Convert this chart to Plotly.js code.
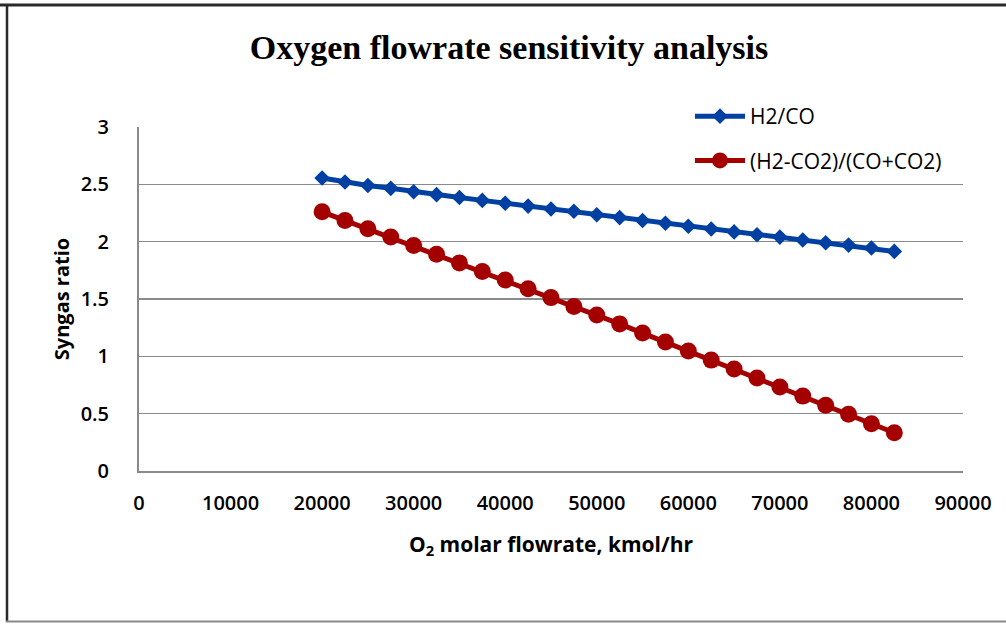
<!DOCTYPE html>
<html>
<head>
<meta charset="utf-8">
<script src="https://cdn.plot.ly/plotly-3.0.1.min.js"></script>
<style>
html,body{margin:0;padding:0;background:#fff;}
#chart{width:1006px;height:624px;}
</style>
</head>
<body>
<div id="chart"></div>
<script>
// O2 molar flowrate, kmol/hr
const o2Flow = [20000, 22500, 25000, 27500, 30000, 32500, 35000, 37500, 40000, 42500,
                45000, 47500, 50000, 52500, 55000, 57500, 60000, 62500, 65000, 67500,
                70000, 72500, 75000, 77500, 80000, 82500];
// H2/CO
const h2co = [2.555, 2.52, 2.49, 2.465, 2.435, 2.41, 2.385, 2.36, 2.335, 2.31,
              2.285, 2.265, 2.235, 2.21, 2.185, 2.16, 2.135, 2.11, 2.085, 2.06,
              2.04, 2.015, 1.99, 1.97, 1.945, 1.915];
// (H2-CO2)/(CO+CO2)
const moduleRatio = [2.26, 2.185, 2.113, 2.04, 1.967, 1.89, 1.815, 1.74, 1.665, 1.59,
                     1.512, 1.435, 1.36, 1.283, 1.203, 1.125, 1.047, 0.967, 0.89, 0.812,
                     0.733, 0.653, 0.574, 0.494, 0.412, 0.334];
const seriesNames = ['H2/CO', '(H2-CO2)/(CO+CO2)'];
const yTicks = [0, 0.5, 1, 1.5, 2, 2.5, 3];
const xTicks = [0, 10000, 20000, 30000, 40000, 50000, 60000, 70000, 80000, 90000];

const BLUE = '#0040a2';
const RED = '#a50000';
const GRID = '#8a8a8a';
const SANS = 'Open Sans, Liberation Sans, sans-serif';

const traces = [
  {
    x: o2Flow, y: h2co, name: seriesNames[0], type: 'scatter', mode: 'lines+markers',
    legendgroup: 'a',
    line: {color: BLUE, width: 5},
    marker: {symbol: 'diamond', size: 12, color: BLUE}
  },
  {
    x: o2Flow, y: moduleRatio, name: seriesNames[1], type: 'scatter', mode: 'lines+markers',
    legendgroup: 'b',
    line: {color: RED, width: 5},
    marker: {symbol: 'circle', size: 17, color: RED}
  }
];

const pw = 824, ph = 344, ml = 139, mt = 127;
function px(xp){ return (xp - ml) / pw; }
function py(yp){ return (mt + ph - yp) / ph; }

const layout = {
  width: 1006, height: 624,
  margin: {l: 139, r: 43, t: 127, b: 153, pad: 0},
  paper_bgcolor: '#ffffff', plot_bgcolor: '#ffffff',
  showlegend: true,
  title: {
    text: 'Oxygen flowrate sensitivity analysis',
    font: {family: 'Liberation Serif, Times New Roman, serif', size: 34, color: '#000', weight: 'bold'},
    xref: 'container', yref: 'container', x: 0.506, y: 1 - 47/624,
    xanchor: 'center', yanchor: 'middle'
  },
  xaxis: {
    range: [0, 90000], tickvals: xTicks, tickformat: 'd',
    showgrid: false, zeroline: false,
    showline: true, linecolor: GRID, linewidth: 2,
    ticks: '', ticklabelstandoff: 13,
    tickfont: {family: SANS, size: 20, color: '#000', weight: 600},
    title: {text: 'O<sub>2</sub> molar flowrate, kmol/hr',
            font: {family: SANS, size: 21, color: '#000', weight: 'bold'}, standoff: 22},
    fixedrange: true
  },
  yaxis: {
    range: [0, 3], tickvals: yTicks,
    showgrid: true, gridcolor: GRID, gridwidth: 1.5,
    zeroline: false,
    showline: true, linecolor: GRID, linewidth: 2,
    ticks: '', ticklabelstandoff: 24,
    tickfont: {family: SANS, size: 20, color: '#000', weight: 600},
    title: {text: 'Syngas ratio',
            font: {family: SANS, size: 20, color: '#000', weight: 'bold'}, standoff: 6},
    fixedrange: true
  },
  legend: {
    x: px(690), y: py(96), xanchor: 'left', yanchor: 'top',
    bgcolor: 'rgba(0,0,0,0)', borderwidth: 0,
    traceorder: 'grouped', tracegroupgap: 14, itemwidth: 50,
    font: {family: SANS, size: 21, color: '#000'}
  },
  shapes: [
    {type: 'line', xref: 'paper', yref: 'paper', x0: px(0), x1: px(1010), y0: py(5), y1: py(5),
     line: {color: '#2a2a2a', width: 3}},
    {type: 'line', xref: 'paper', yref: 'paper', x0: px(7), x1: px(7), y0: py(4), y1: py(622),
     line: {color: '#2a2a2a', width: 2.5}},
    {type: 'line', xref: 'paper', yref: 'paper', x0: px(6), x1: px(1010), y0: py(621.5), y1: py(621.5),
     line: {color: '#8a8a8a', width: 2}}
  ]
};

Plotly.newPlot('chart', traces, layout, {displayModeBar: false, staticPlot: true});
</script>
</body>
</html>
